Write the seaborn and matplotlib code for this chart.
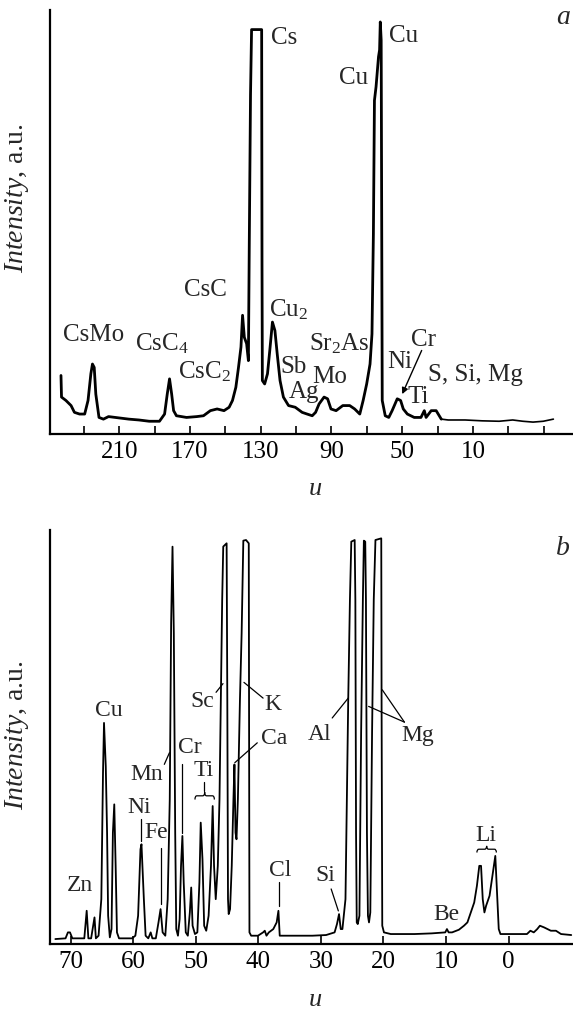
"""
Mass spectra, panels a and b (Intensity vs u), redrawn with seaborn.
"""
import numpy as np
import pandas as pd
import matplotlib
matplotlib.use("Agg")
import matplotlib.pyplot as plt
from matplotlib.path import Path
from matplotlib.patches import PathPatch
import seaborn as sns

# ---- spectrum a (u, intensity in % of axis height) ----
mass_a = [243.0, 242.7, 240.2, 237.3, 235.4, 232.5, 229.6, 227.7, 226.1, 225.2,
          224.2, 223.3, 221.5, 219.0, 216.1, 210.4, 204.6, 198.9, 193.1, 187.3,
          184.4, 182.9, 181.6, 180.4, 179.3, 177.7, 172.0, 166.2, 162.4, 158.5,
          154.7, 150.8, 147.9, 146.0, 144.1, 142.6, 141.2, 140.3, 139.3, 138.0,
          137.0, 136.5, 136.2, 135.8, 135.2, 129.5, 129.3, 129.1, 127.8, 126.2,
          124.9, 123.4, 122.0, 120.7, 119.1, 117.2, 114.3, 110.5, 106.6, 103.8,
          100.9, 99.0, 97.0, 94.2, 92.2, 90.3, 87.4, 83.6, 79.7, 76.9,
          74.0, 72.1, 70.1, 68.2, 67.1, 66.3, 65.7, 64.8, 63.4, 62.8,
          62.4, 61.9, 61.3, 59.6, 57.6, 55.7, 52.8, 50.9, 49.4, 47.1,
          43.2, 39.4, 37.5, 36.5, 33.6, 30.8, 27.9, 24.0, 14.4, 4.8,
          -4.8, -12.5, -18.2, -24.0, -29.8, -35.5]
intensity_a = [13.8, 8.7, 7.9, 6.7, 5.1, 4.7, 4.7, 7.9, 14.2, 16.5,
               15.7, 9.4, 3.9, 3.5, 4.1, 3.8, 3.5, 3.3, 3.0, 3.0,
               4.7, 9.4, 13.0, 9.4, 5.5, 4.3, 3.9, 4.1, 4.3, 5.5,
               5.9, 5.5, 6.3, 7.9, 11.0, 15.7, 20.5, 28.0, 22.8, 21.3,
               17.3, 45.0, 59.8, 80.0, 95.4, 95.4, 40.0, 12.6, 11.8, 14.2,
               19.7, 26.4, 24.4, 18.9, 12.6, 8.7, 6.7, 6.3, 5.1, 4.7,
               4.3, 5.1, 7.1, 8.7, 8.3, 5.9, 5.5, 6.7, 6.7, 5.9,
               4.7, 7.9, 11.8, 16.5, 23.6, 47.2, 78.7, 81.9, 89.0, 90.6,
               97.2, 92.9, 7.9, 4.3, 3.9, 5.5, 8.3, 7.9, 5.9, 4.7,
               3.9, 3.9, 5.5, 3.9, 5.5, 5.5, 3.5, 3.3, 3.3, 3.1,
               3.0, 3.3, 3.0, 2.8, 3.0, 3.5]

# ---- spectrum b ----
mass_b = [72.45, 70.82, 70.44, 70.11, 69.73, 67.82, 67.44, 67.17, 66.73, 66.19,
          65.97, 65.54, 65.10, 64.83, 64.67, 64.39, 64.18, 64.01, 63.74, 63.47,
          63.25, 63.03, 62.81, 62.60, 62.27, 60.20, 59.66, 59.22, 58.84, 58.68,
          58.30, 58.02, 57.59, 57.21, 56.94, 56.39, 55.96, 55.63, 55.30, 54.87,
          54.49, 54.16, 53.94, 53.72, 53.51, 53.29, 53.12, 52.85, 52.58, 52.36,
          52.14, 51.93, 51.60, 51.27, 50.95, 50.73, 50.51, 50.13, 49.75, 49.42,
          49.21, 48.93, 48.66, 48.33, 47.95, 47.57, 47.30, 47.08, 46.81, 46.48,
          46.21, 45.99, 45.78, 45.61, 45.07, 44.96, 44.85, 44.74, 44.52, 44.25,
          43.98, 43.82, 43.65, 43.49, 43.27, 42.94, 42.67, 42.40, 41.97, 41.53,
          41.48, 41.42, 41.15, 40.06, 39.24, 38.97, 38.70, 38.32, 37.61, 37.07,
          36.79, 36.58, 35.70, 33.53, 31.35, 29.17, 27.81, 27.43, 27.10, 26.83,
          26.56, 26.07, 25.63, 25.36, 25.14, 24.60, 24.49, 24.38, 24.27, 24.11,
          23.84, 23.57, 23.29, 23.13, 22.91, 22.80, 22.64, 22.48, 22.31, 22.10,
          21.82, 21.55, 21.28, 20.35, 20.30, 20.19, 19.92, 18.83, 15.02, 12.30,
          10.12, 9.85, 9.58, 9.03, 7.94, 7.13, 6.58, 6.04, 5.49, 5.06,
          4.68, 4.40, 4.13, 3.86, 3.59, 3.04, 2.50, 2.12, 1.79, 1.57,
          1.30, 0.32, -1.31, -2.94, -3.49, -4.03, -4.58, -5.01, -5.67, -6.76,
          -7.57, -8.39, -10.02]
intensity_b = [1.2, 1.37, 2.81, 2.81, 1.37, 1.37, 8.03, 1.37, 1.37, 6.43,
               1.37, 2.01, 10.84, 41.37, 53.41, 42.97, 26.9, 6.83, 1.61, 3.61,
               26.9, 33.73, 18.88, 2.81, 1.37, 1.37, 2.01, 6.83, 22.89, 24.1,
               10.84, 2.01, 1.37, 2.81, 1.37, 1.37, 5.22, 8.43, 2.81, 2.01,
               10.84, 34.94, 77.51, 95.98, 75.1, 26.9, 3.61, 2.01, 6.02, 18.88,
               26.1, 14.86, 2.81, 2.01, 7.63, 13.65, 4.42, 2.41, 2.81, 14.86,
               29.32, 20.48, 4.42, 3.21, 6.83, 18.88, 33.33, 18.88, 10.84, 18.88,
               34.94, 59.04, 83.13, 96.0, 96.79, 59.04, 10.84, 7.23, 8.43, 18.88,
               34.94, 43.37, 26.9, 25.3, 34.94, 59.04, 75.1, 97.43, 97.59, 96.79,
               51.0, 2.81, 2.01, 2.01, 2.81, 3.21, 2.01, 2.81, 3.61, 5.22,
               8.03, 2.01, 2.01, 2.01, 2.01, 2.17, 2.81, 4.82, 7.23, 3.61,
               3.61, 10.84, 59.04, 83.13, 97.19, 97.59, 83.13, 26.9, 5.22, 4.82,
               6.83, 51.0, 83.13, 97.43, 97.19, 83.13, 26.9, 6.83, 5.22, 7.63,
               51.0, 83.13, 97.59, 97.99, 59.04, 4.42, 2.81, 2.41, 2.41, 2.57,
               2.81, 3.61, 2.81, 2.81, 3.45, 4.42, 5.22, 7.63, 10.04, 14.06,
               18.88, 18.88, 10.84, 7.63, 9.24, 11.65, 17.27, 21.29, 10.84, 3.61,
               2.41, 2.41, 2.41, 2.41, 3.21, 2.81, 3.61, 4.42, 4.02, 3.21,
               3.21, 2.41, 2.17]

ticks_a = list(range(230, -31, -20))
ticklabels_a = ['', '210', '', '170', '', '130', '', '90', '', '50', '', '10', '', '']
ticks_b = list(range(70, -1, -10))

# peak labels (text, u, intensity)
labels_a = [("Cs", 116.6, 93.3), ("Cu", 49.0, 93.9), ("Cu", 77.4, 83.9),
            ("CsC", 161.4, 34.0), ("Cu$_\\mathrm{2}$", 114.1, 29.2),
            ("CsMo", 224.8, 23.4), ("CsC$_\\mathrm{4}$", 185.8, 21.2),
            ("CsC$_\\mathrm{2}$", 161.6, 14.6), ("Sb", 111.4, 15.7), ("Ag", 105.7, 9.8),
            ("Mo", 90.9, 13.4), ("Sr$_\\mathrm{2}$As", 85.7, 21.3), ("Ni", 51.3, 16.9),
            ("Cr", 37.9, 22.2), ("S, Si, Mg", 8.7, 13.8), ("Ti", 40.9, 8.7)]
labels_b = [("Cu", 63.85, 56.5), ("Zn", 68.48, 14.1), ("Ni", 59.11, 32.9),
            ("Fe", 56.39, 26.9), ("Mn", 57.92, 41.0), ("Cr", 50.95, 47.4),
            ("Ti", 48.66, 41.8), ("Sc", 49.04, 58.6), ("K", 37.72, 57.8),
            ("Ca", 37.45, 49.6), ("Al", 30.15, 50.6), ("Mg", 14.58, 50.4),
            ("Cl", 36.52, 17.7), ("Si", 29.28, 16.5), ("Be", 10.0, 7.2),
            ("Li", 3.59, 26.1)]
# leader lines in panel b: (u0, I0, u1, I1)
leaders_b = [(58.73, 30.1, 58.73, 24.9), (55.63, 23.3, 55.63, 9.6),
             (55.03, 43.4, 54.21, 46.2), (52.14, 43.4, 52.14, 26.9),
             (48.61, 39.1, 48.61, 37.0), (46.76, 60.8, 45.65, 62.9),
             (39.24, 59.4, 42.3, 63.2), (40.17, 48.6, 43.76, 43.8),
             (28.19, 54.6, 25.63, 59.4), (16.65, 53.6, 22.37, 57.4),
             (16.65, 53.6, 20.19, 61.4), (36.69, 14.9, 36.69, 9.2),
             (28.36, 13.3, 27.21, 8.0)]
# braces: (u_left, u_right, I_base, height)
braces_b = [(50.13, 47.03, 34.9, 1.8), (5.06, 1.95, 22.1, 1.6)]

sns.set_style("ticks")
plt.rcParams['font.family'] = ['Liberation Serif', 'DejaVu Serif']
plt.rcParams['mathtext.fontset'] = 'custom'
plt.rcParams['mathtext.rm'] = 'Liberation Serif'
plt.rcParams['mathtext.it'] = 'Liberation Serif:italic'


def brace(ax, u0, u1, base, h):
    verts = [(0, 0), (0, 0.5), (0.1, 0.5), (0.4, 0.5), (0.5, 0.5), (0.5, 1.0),
             (0.5, 0.5), (0.6, 0.5), (0.9, 0.5), (1.0, 0.5), (1.0, 0.0)]
    codes = [Path.MOVETO, Path.CURVE3, Path.CURVE3, Path.LINETO, Path.CURVE3, Path.CURVE3,
             Path.CURVE3, Path.CURVE3, Path.LINETO, Path.CURVE3, Path.CURVE3]
    pts = [(u0 + x * (u1 - u0), base + y * h) for x, y in verts]
    ax.add_patch(PathPatch(Path(pts, codes), fill=False, lw=0.9, color='black'))


def style_axes(ax):
    for s in ['top', 'right']:
        ax.spines[s].set_visible(False)
    for s in ['left', 'bottom']:
        ax.spines[s].set_linewidth(1.6)
        ax.spines[s].set_color('black')
    ax.tick_params(axis='x', direction='in', length=6, width=1.2, labelsize=18,
                   pad=5, colors='black')
    ax.tick_params(axis='y', left=False, labelleft=False)
    ax.set_xlabel('')
    ax.set_ylabel('')


fig = plt.figure(figsize=(5.73, 10.09), dpi=100)
ax_a = fig.add_axes([0.0873, 0.5699, 0.9127, 0.4201])
ax_b = fig.add_axes([0.0873, 0.0644, 0.9127, 0.4103])

# panel a
df_a = pd.DataFrame({'u': mass_a, 'I': intensity_a})
split = mass_a.index(27.9)
sns.lineplot(data=df_a.iloc[:split + 1], x='u', y='I', sort=False, estimator=None,
             color='black', lw=2.0, ax=ax_a)
sns.lineplot(data=df_a.iloc[split:], x='u', y='I', sort=False, estimator=None,
             color='black', lw=1.2, ax=ax_a)
ax_a.set_xlim(249.2, -46.6)
ax_a.set_ylim(0, 100)
ax_a.set_xticks(ticks_a)
ax_a.set_xticklabels(ticklabels_a)
style_axes(ax_a)
for txt, u, i in labels_a:
    ax_a.text(u, i, txt, ha='center', va='center', fontsize=18)
ax_a.annotate('', xy=(50.0, 9.4), xytext=(39.0, 19.7),
              arrowprops=dict(arrowstyle='-|>', lw=1.0, color='black', mutation_scale=9,
                              shrinkA=0, shrinkB=0))
ax_a.text(0.981, 0.983, 'a', transform=ax_a.transAxes, ha='center', va='center',
          fontsize=20, fontstyle='italic')
ax_a.text(0.507, -0.13, 'u', transform=ax_a.transAxes, ha='center', va='center',
          fontsize=19, fontstyle='italic')
ax_a.text(-0.063, 0.557, r'$\mathit{Intensity}$, a.u.', transform=ax_a.transAxes,
          rotation=90, ha='center', va='center', fontsize=20)

# panel b
df_b = pd.DataFrame({'u': mass_b, 'I': intensity_b})
sns.lineplot(data=df_b, x='u', y='I', sort=False, estimator=None,
             color='black', lw=1.3, ax=ax_b)
ax_b.set_xlim(73.3, -10.3)
ax_b.set_ylim(0, 100)
ax_b.set_xticks(ticks_b)
ax_b.set_xticklabels([str(t) for t in ticks_b])
style_axes(ax_b)
for txt, u, i in labels_b:
    ax_b.text(u, i, txt, ha='center', va='center', fontsize=17)
for u0, i0, u1, i1 in leaders_b:
    ax_b.plot([u0, u1], [i0, i1], color='black', lw=0.9)
for u0, u1, base, h in braces_b:
    brace(ax_b, u0, u1, base, h)
ax_b.text(0.981, 0.955, 'b', transform=ax_b.transAxes, ha='center', va='center',
          fontsize=20, fontstyle='italic')
ax_b.text(0.507, -0.135, 'u', transform=ax_b.transAxes, ha='center', va='center',
          fontsize=19, fontstyle='italic')
ax_b.text(-0.063, 0.505, r'$\mathit{Intensity}$, a.u.', transform=ax_b.transAxes,
          rotation=90, ha='center', va='center', fontsize=20)

fig.savefig('out.png', dpi=100)
plt.close(fig)
